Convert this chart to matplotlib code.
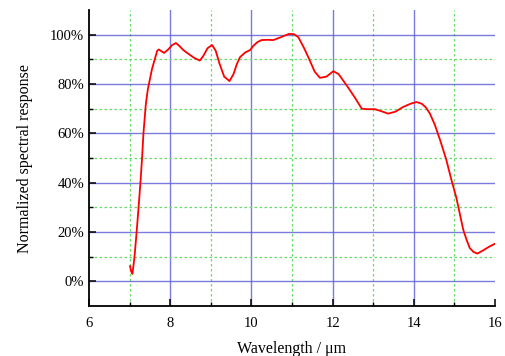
import matplotlib.pyplot as plt
from matplotlib.ticker import FuncFormatter

# Longitud de onda (um) y respuesta espectral normalizada (%)
wavelength = [7.01, 7.04, 7.07, 7.12, 7.17, 7.22, 7.27, 7.31, 7.34, 7.40, 7.45, 7.50,
              7.55, 7.61, 7.68, 7.72, 7.78, 7.85, 7.95, 8.05, 8.14, 8.22, 8.32, 8.45,
              8.60, 8.73, 8.82, 8.92, 9.03, 9.12, 9.22, 9.33, 9.46, 9.56, 9.64, 9.72,
              9.85, 9.97, 10.05, 10.15, 10.25, 10.40, 10.54, 10.70, 10.82, 10.93,
              11.05, 11.16, 11.30, 11.44, 11.56, 11.69, 11.85, 12.02, 12.15, 12.35,
              12.55, 12.72, 12.85, 13.04, 13.20, 13.37, 13.55, 13.74, 13.92, 14.07,
              14.20, 14.30, 14.40, 14.52, 14.65, 14.80, 14.93, 15.05, 15.22, 15.30,
              15.38, 15.47, 15.57, 15.70, 15.85, 16.00]
response = [6.2, 4.0, 3.1, 10.0, 19.6, 30.0, 41.0, 51.0, 60.0, 72.0, 78.0, 82.0,
            86.0, 89.5, 93.5, 94.0, 93.3, 92.6, 94.0, 95.8, 96.6, 95.5, 93.8, 92.2,
            90.5, 89.5, 91.5, 94.5, 95.8, 93.5, 88.0, 83.0, 81.2, 84.0, 88.0, 90.9,
            92.8, 93.8, 95.5, 97.0, 97.8, 97.9, 97.8, 98.8, 99.6, 100.3,
            100.2, 98.9, 94.5, 89.5, 85.0, 82.5, 83.0, 85.2, 84.0, 79.4,
            74.5, 70.0, 69.8, 69.8, 69.0, 68.0, 68.8, 70.7, 72.0, 72.7,
            72.0, 70.5, 68.0, 63.5, 57.3, 49.5, 41.1, 34.0, 21.0, 17.0,
            13.6, 12.0, 11.3, 12.5, 14.0, 15.3]

xticks = [6, 8, 10, 12, 14, 16]
xminor = [7, 9, 11, 13, 15]
yticks = [0, 20, 40, 60, 80, 100]
yminor = [10, 30, 50, 70, 90]

plt.rcParams['font.family'] = ['Liberation Serif', 'DejaVu Serif']

fig = plt.figure(figsize=(5.06, 3.56), dpi=100)
ax = fig.add_axes([0.176, 0.14, 0.802, 0.832])

ax.plot(wavelength, response, color='red', linewidth=1.3, zorder=3)

ax.set_xlim(6, 16)
ax.set_ylim(-10, 110)
ax.set_xticks(xticks)
ax.set_xticks(xminor, minor=True)
ax.set_yticks(yticks)
ax.set_yticks(yminor, minor=True)
ax.yaxis.set_major_formatter(FuncFormatter(lambda v, p: f'{v:.0f}%'))

# Rejilla: principal azul continua, secundaria verde punteada
ax.grid(True, which='major', color='#5a5ad8', linewidth=1.0, alpha=0.8)
ax.grid(True, which='minor', color='#66dd66', linestyle=(0, (2, 2)), linewidth=0.9)
# sin linea de rejilla sobre los bordes del grafico
ax.xaxis.get_gridlines()[0].set_visible(False)
ax.xaxis.get_gridlines()[-1].set_visible(False)

for s in ['top', 'right']:
    ax.spines[s].set_visible(False)
for s in ['left', 'bottom']:
    ax.spines[s].set_linewidth(1.3)

ax.tick_params(which='both', direction='in', labelsize=10.5)
ax.tick_params(which='major', length=5, width=1.1)
ax.tick_params(which='minor', length=3, width=1.0)
ax.tick_params(axis='x', pad=8)

ax.set_xlabel('Wavelength / μm', fontsize=11.5, labelpad=8)
ax.set_ylabel('Normalized spectral response', fontsize=11.5, labelpad=12)

fig.savefig('out.png', dpi=100)
